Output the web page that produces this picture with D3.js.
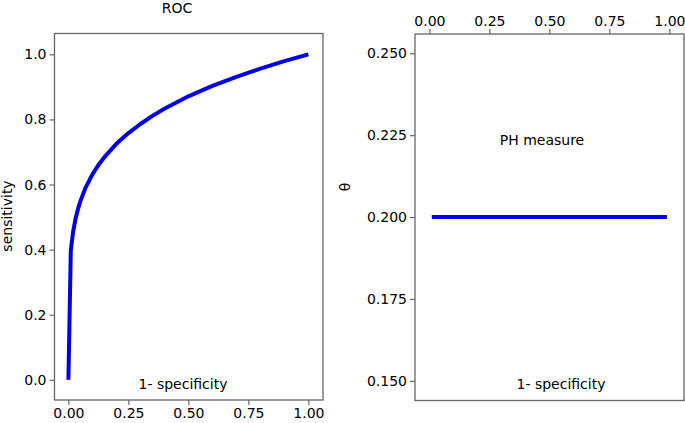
<!DOCTYPE html>
<html><head><meta charset="utf-8">
<script src="https://cdn.jsdelivr.net/npm/d3@7"></script>
<style>body{margin:0;background:#fff}svg{display:block}text{font-family:"DejaVu Sans",sans-serif;font-size:14px;fill:#000}</style>
</head><body>
<script>
// ROC curve points (1 - specificity, sensitivity)
const rocX = [0, 0.01, 0.02, 0.03, 0.04, 0.05, 0.07, 0.1, 0.125, 0.15, 0.2, 0.25, 0.3, 0.35, 0.4, 0.5, 0.6, 0.7, 0.8, 0.9, 1.0];
const rocY = [0, 0.398, 0.457, 0.496, 0.525, 0.549, 0.588, 0.631, 0.660, 0.684, 0.725, 0.758, 0.786, 0.811, 0.833, 0.871, 0.903, 0.931, 0.956, 0.979, 1.0];
// PH measure (theta) across 1 - specificity
const phX = [0.01, 0.99];
const phY = [0.2, 0.2];
const rocXTicks = [0, 0.25, 0.5, 0.75, 1];
const rocYTicks = [0, 0.2, 0.4, 0.6, 0.8, 1.0];
const phXTicks = [0, 0.25, 0.5, 0.75, 1];
const phYTicks = [0.15, 0.175, 0.2, 0.225, 0.25];

const W = 685, H = 423;
const svg = d3.select("body").append("svg").attr("width", W).attr("height", H);
const boxCol = "#666", lineCol = "#0000e6";

function panel(cfg) {
  const x = d3.scaleLinear().domain(cfg.xd).range([cfg.l, cfg.r]);
  const y = d3.scaleLinear().domain(cfg.yd).range([cfg.b, cfg.t]);
  const g = svg.append("g");
  g.append("rect").attr("x", cfg.l).attr("y", cfg.t).attr("width", cfg.r - cfg.l).attr("height", cfg.b - cfg.t)
    .attr("fill", "none").attr("stroke", boxCol).attr("stroke-width", 1.3);
  const xa = cfg.xTop ? d3.axisTop(x) : d3.axisBottom(x);
  xa.tickValues(cfg.xt).tickFormat(d3.format(".2f")).tickSize(5).tickPadding(3);
  const gx = g.append("g").attr("transform", `translate(0,${cfg.xTop ? cfg.t : cfg.b})`).call(xa);
  const ya = d3.axisLeft(y).tickValues(cfg.yt).tickFormat(d3.format(cfg.yf)).tickSize(5).tickPadding(3);
  const gy = g.append("g").attr("transform", `translate(${cfg.l},0)`).call(ya);
  [gx, gy].forEach(a => {
    a.select(".domain").remove();
    a.selectAll("line").attr("stroke", boxCol).attr("stroke-width", 1.2);
    a.selectAll("text").style("font-size", "14px").style("font-family", "DejaVu Sans").attr("fill", "#000");
  });
  const line = d3.line().x((d, i) => x(cfg.dx[i])).y(d => y(d));
  g.append("path").datum(cfg.dy).attr("d", line).attr("fill", "none")
    .attr("stroke", lineCol).attr("stroke-width", 4).attr("stroke-linejoin", "round");
  return {x, y, g};
}

const p1 = panel({l: 54.5, r: 323, t: 33.5, b: 400, xd: [-0.058, 1.061], yd: [-0.062, 1.064],
  xt: rocXTicks, yt: rocYTicks, yf: ".1f", dx: rocX, dy: rocY, xTop: false});
svg.append("text").attr("x", 177).attr("y", 13).attr("text-anchor", "middle").text("ROC");
svg.append("text").attr("transform", "translate(12,216) rotate(-90)").attr("text-anchor", "middle").text("sensitivity");
svg.append("text").attr("x", 183).attr("y", 389).attr("text-anchor", "middle").text("1- specificity");

const p2 = panel({l: 415, r: 684, t: 34, b: 400.5, xd: [-0.06, 1.061], yd: [0.144, 0.2559],
  xt: phXTicks, yt: phYTicks, yf: ".3f", dx: phX, dy: phY, xTop: true});
svg.append("text").attr("transform", "translate(350,187) rotate(-90)").attr("text-anchor", "middle").text("θ");
svg.append("text").attr("x", 542).attr("y", 145).attr("text-anchor", "middle").text("PH measure");
svg.append("text").attr("x", 561).attr("y", 389).attr("text-anchor", "middle").text("1- specificity");
</script>
</body></html>
